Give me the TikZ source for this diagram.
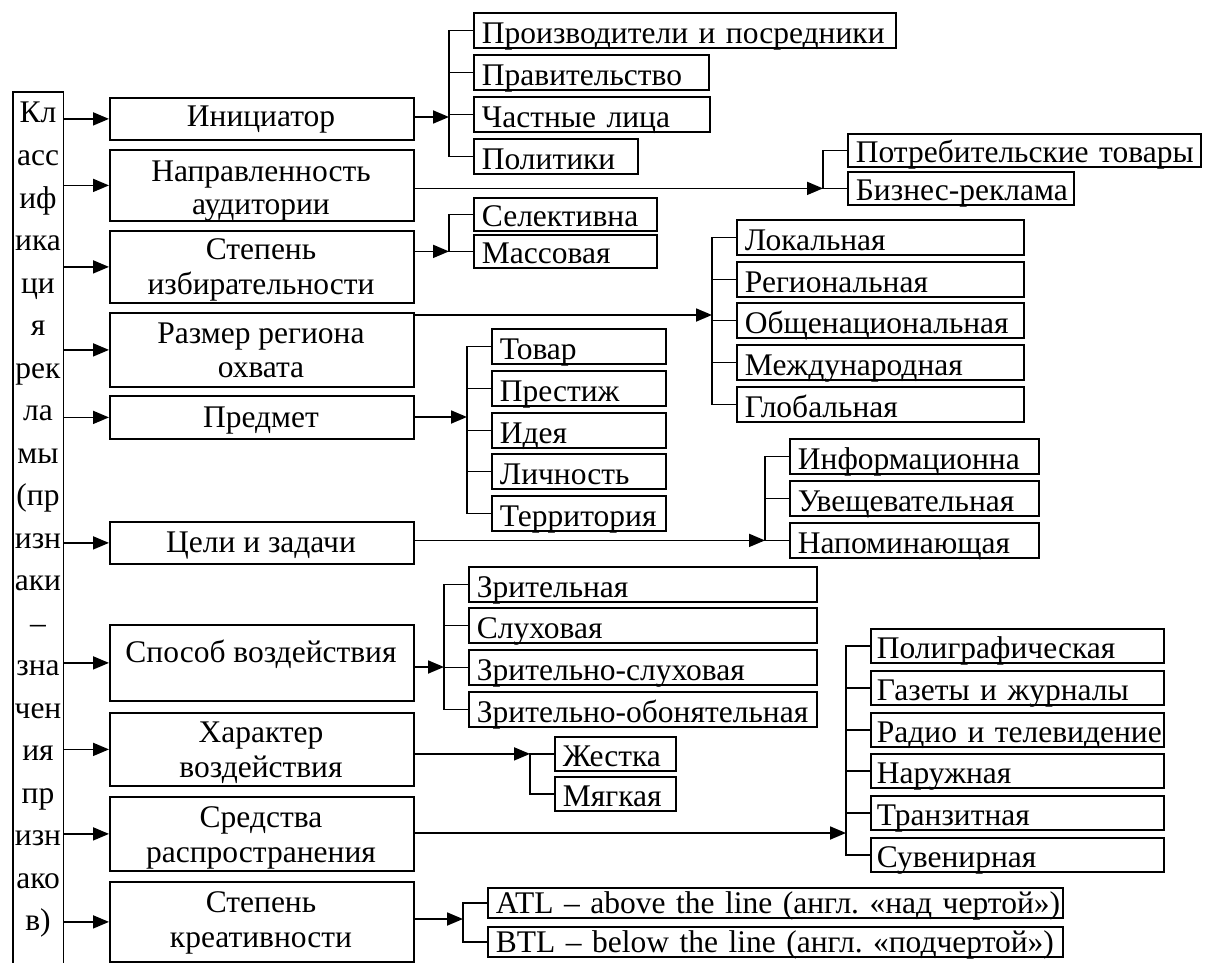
\documentclass[tikz,border=0pt]{standalone}
\usepackage{fontspec}
\setmainfont{Liberation Serif}
\usetikzlibrary{arrows.meta}
\frenchspacing
\begin{document}
\begin{tikzpicture}[x=1pt,y=-1pt,
  font=\fontsize{31.5}{38}\selectfont,
  box/.style={draw,line width=1.8pt},
  cat/.style={box,anchor=north west,minimum width=304pt,inner sep=0pt},
  item/.style={box,anchor=north west,inner xsep=8pt,inner ysep=0pt,
    text height=31pt,text depth=4pt,align=left},
  itemlow/.style={item,text height=29pt},
  itemthin/.style={item,text height=26pt},
  lbl/.style={anchor=base,inner sep=0pt},
  arr/.style={line width=1.8pt,-{Triangle[length=16pt,width=13pt]}},
  br/.style={line width=1.5pt}]
\useasboundingbox (0,0) rectangle (1207,963);

% ---- vertical heading box (open at the bottom) ----
\node[minimum width=50pt,minimum height=871pt,inner sep=0pt,anchor=north west] (L) at (13,92) {};
\draw[box] (L.south west) |- (L.north east) -- (L.south east);
\foreach \t [count=\i from 0] in {{Кл},{асс},{иф},{ика},{ци},{я},{рек},{ла},{мы},{(пр},{изн},{аки},{–},{зна},{чен},{ия},{пр},{изн},{ако},{в)}}
  \node[lbl] (s\i) at (38,123+42.5*\i) {\t};

% ---- classification features ----
\node[cat,minimum height=42pt] (m1) at (109,97) {};
\node[cat,minimum height=71pt] (m2) at (109,149) {};
\node[cat,minimum height=72pt] (m3) at (109,230) {};
\node[cat,minimum height=74pt] (m4) at (109,312) {};
\node[cat,minimum height=43pt] (m5) at (109,395) {};
\node[cat,minimum height=42pt] (m6) at (109,521) {};
\node[cat,minimum height=76pt] (m7) at (109,624) {};
\node[cat,minimum height=73pt] (m8) at (109,712) {};
\node[cat,minimum height=74pt] (m9) at (109,796) {};
\node[cat,minimum height=80pt] (m10) at (109,881) {};

\node[lbl] (t1) at (261,127) {Инициатор};
\node[lbl] (t2a) at (261,181) {Направленность};
\node[lbl] (t2b) at (261,214) {аудитории};
\node[lbl] (t3a) at (261,259) {Степень};
\node[lbl] (t3b) at (261,294) {избирательности};
\node[lbl] (t4a) at (261,343) {Размер региона};
\node[lbl] (t4b) at (261,377) {охвата};
\node[lbl] (t5) at (261,427) {Предмет};
\node[lbl] (t6) at (261,552) {Цели и задачи};
\node[lbl] (t7) at (261,662) {Способ воздействия};
\node[lbl] (t8a) at (261,742) {Характер};
\node[lbl] (t8b) at (261,777) {воздействия};
\node[lbl] (t9a) at (261,827) {Средства};
\node[lbl] (t9b) at (261,862) {распространения};
\node[lbl] (t10a) at (261,912) {Степень};
\node[lbl] (t10b) at (261,947) {креативности};

\foreach \m in {m1,m2,m3,m4,m5,m6,m7,m8,m9,m10}
  \draw[arr] (L.east |- \m.west) -- (\m.west);

% ---- values: initiator ----
\node[item,text width=406pt] (a1) at (473,12) {\mbox{Производители и посредники}};
\node[item,text width=219pt] (a2) at (473,54) {\mbox{Правительство}};
\node[item,text width=220pt] (a3) at (473,96) {\mbox{Частные лица}};
\node[item,text width=148pt] (a4) at (473,138) {\mbox{Политики}};
\coordinate (j1) at (449,117);
\draw[br] (a1.west) -- ++(-24,0) |- (a4.west);
\foreach \c in {a2,a3} \draw[br] (\c.west) -- ++(-24,0);
\draw[arr] (m1.east |- j1) -- (j1);

% ---- audience ----
\node[itemlow,text width=337pt] (b1) at (847,133) {\mbox{Потребительские товары}};
\node[itemlow,text width=210pt] (b2) at (847,171) {\mbox{Бизнес-реклама}};
\coordinate (j2) at ([xshift=-24pt]b2.west);
\draw[br] (b1.west) -- ++(-24,0) |- (b2.west);
\draw[arr] (m2.east |- j2) -- (j2);

% ---- selectivity ----
\node[itemlow,text width=167pt] (c1) at (473,197) {\mbox{Селективна}};
\node[itemlow,text width=167pt] (c2) at (473,234) {\mbox{Массовая}};
\coordinate (j3) at ([xshift=-24pt]c2.west);
\draw[br] (c1.west) -- ++(-24,0) |- (c2.west);
\draw[arr] (m3.east |- j3) -- (j3);

% ---- region size ----
\node[item,text width=271pt] (d1) at (736,219) {\mbox{Локальная}};
\node[item,text width=271pt] (d2) at (736,261) {\mbox{Региональная}};
\node[item,text width=271pt] (d3) at (736,302) {\mbox{Общенациональная}};
\node[item,text width=271pt] (d4) at (736,344) {\mbox{Международная}};
\node[item,text width=271pt] (d5) at (736,386) {\mbox{Глобальная}};
\coordinate (j4) at (712,315);
\draw[br] (d1.west) -- ++(-24,0) |- (d5.west);
\foreach \c in {d2,d3,d4} \draw[br] (\c.west) -- ++(-24,0);
\draw[arr] (m4.north east |- j4) -- (j4);

% ---- subject ----
\node[item,text width=158pt] (e1) at (491,328) {\mbox{Товар}};
\node[item,text width=158pt] (e2) at (491,370) {\mbox{Престиж}};
\node[item,text width=158pt] (e3) at (491,412) {\mbox{Идея}};
\node[item,text width=158pt] (e4) at (491,453) {\mbox{Личность}};
\node[item,text width=158pt] (e5) at (491,495) {\mbox{Территория}};
\coordinate (j5) at (467,417);
\draw[br] (e1.west) -- ++(-24,0) |- (e5.west);
\foreach \c in {e2,e3,e4} \draw[br] (\c.west) -- ++(-24,0);
\draw[arr] (m5.east |- j5) -- (j5);

% ---- goals ----
\node[item,text width=233pt] (f1) at (789,438) {\mbox{Информационна}};
\node[item,text width=233pt] (f2) at (789,480) {\mbox{Увещевательная}};
\node[item,text width=233pt] (f3) at (789,522) {\mbox{Напоминающая}};
\coordinate (j6) at ([xshift=-24pt]f3.west);
\draw[br] (f1.west) -- ++(-24,0) |- (f3.west);
\draw[br] (f2.west) -- ++(-24,0);
\draw[arr] (m6.east |- j6) -- (j6);

% ---- mode of impact ----
\node[item,text width=332pt] (g1) at (468,566) {\mbox{Зрительная}};
\node[item,text width=332pt] (g2) at (468,607) {\mbox{Слуховая}};
\node[item,text width=332pt] (g3) at (468,649) {\mbox{Зрительно-слуховая}};
\node[item,text width=332pt] (g4) at (468,691) {\mbox{Зрительно-обонятельная}};
\coordinate (j7) at (444,667);
\draw[br] (g1.west) -- ++(-24,0) |- (g4.west);
\foreach \c in {g2,g3} \draw[br] (\c.west) -- ++(-24,0);
\draw[arr] (m7.east |- j7) -- (j7);

% ---- character of impact ----
\node[item,text height=30pt,text width=105pt] (h1) at (554,736) {\mbox{Жестка}};
\node[item,text height=30pt,text width=105pt] (h2) at (554,776) {\mbox{Мягкая}};
\coordinate (j8) at ([xshift=-24pt]h1.west);
\draw[br] (h1.west) -- ++(-24,0) |- (h2.west);
\draw[arr] (m8.east |- j8) -- (j8);

% ---- distribution media ----
\tikzset{media/.style={item,text height=30pt,inner xsep=6pt,text width=281pt}}
\node[media] (k1) at (870,628) {\mbox{Полиграфическая}};
\node[media] (k2) at (870,670) {\mbox{Газеты и журналы}};
\node[media] (k3) at (870,712) {\mbox{Радио и телевидение}};
\node[media] (k4) at (870,753) {\mbox{Наружная}};
\node[media] (k5) at (870,795) {\mbox{Транзитная}};
\node[media] (k6) at (870,837) {\mbox{Сувенирная}};
\coordinate (j9) at (846,833);
\draw[br] (k1.west) -- ++(-24,0) |- (k6.west);
\foreach \c in {k2,k3,k4,k5} \draw[br] (\c.west) -- ++(-24,0);
\draw[arr] (m9.east |- j9) -- (j9);

% ---- creativity ----
\node[itemthin,text width=559pt] (l1) at (487,887) {\mbox{ATL – above the line (англ. «над чертой»)}};
\node[itemthin,text width=559pt] (l2) at (487,926) {\mbox{BTL – below the line (англ. «подчертой»)}};
\coordinate (j10) at (463,919);
\draw[br] (l1.west) -- ++(-24,0) |- (l2.west);
\draw[arr] (m10.east |- j10) -- (j10);
\end{tikzpicture}
\end{document}
